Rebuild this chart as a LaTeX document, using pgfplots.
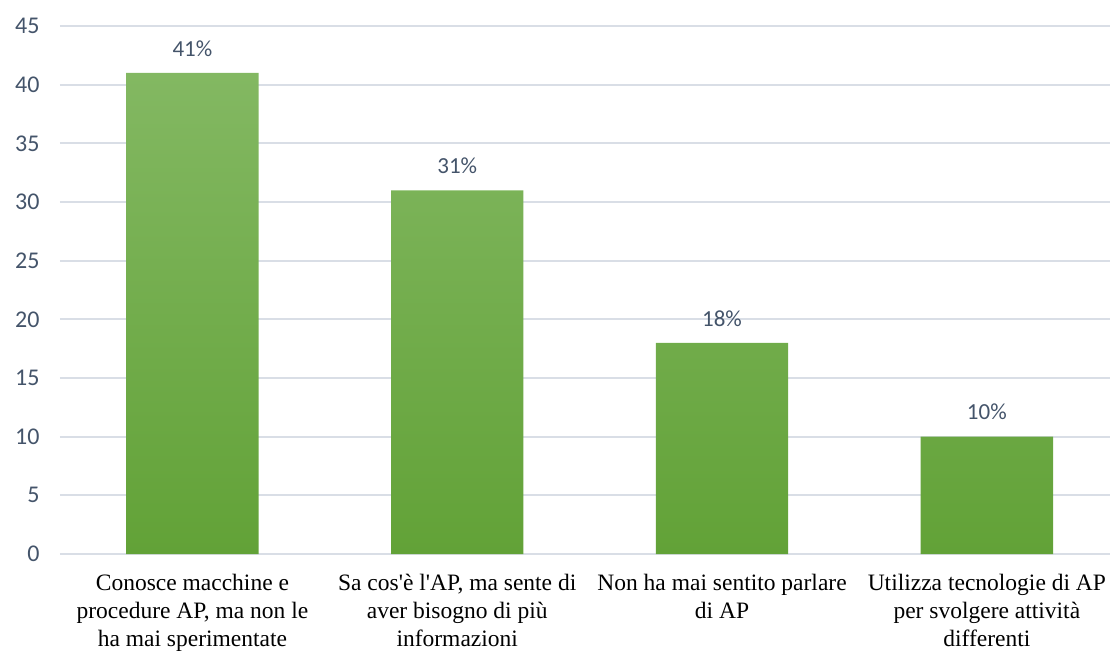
\documentclass[border=0pt]{standalone}
\usepackage{fontspec}
\setmainfont{Liberation Serif}
\newfontfamily\carlito{Carlito}
\usepackage{pgfplots}
\pgfplotsset{compat=1.18}
\definecolor{tickc}{RGB}{68,84,106}
\definecolor{gridc}{RGB}{217,222,230}
\definecolor{barTop}{RGB}{131,184,98}
\definecolor{barMid}{RGB}{112,173,71}
\definecolor{barBot}{RGB}{98,162,55}
\begin{document}
\begin{tikzpicture}
\begin{axis}[
  scale only axis,
  width=1050bp, height=528bp,
  xmin=-0.5, xmax=3.465,
  ymin=0, ymax=45,
  ytick={0,5,...,45},
  xtick={0,1,2,3},
  xticklabels={
    {Conosce macchine e\\procedure AP, ma non le\\ha mai sperimentate},
    {Sa cos\textquotesingle è l\textquotesingle AP, ma sente di\\aver bisogno di più\\informazioni},
    {Non ha mai sentito parlare\\di AP},
    {Utilizza tecnologie di AP\\per svolgere attività\\differenti}},
  axis line style={draw=none},
  major tick length=0pt,
  ymajorgrids,
  grid style={draw=gridc, line width=1.8bp},
  /pgf/number format/assume math mode=true,
  yticklabel style={font=\carlito\fontsize{24bp}{28bp}\selectfont, text=tickc, xshift=-17bp},
  xticklabel style={font=\fontsize{23.5bp}{28bp}\selectfont, align=center, text=black, yshift=-17bp},
  nodes near coords={\pgfmathprintnumber{\pgfplotspointmeta}\%},
  every node near coord/.append style={font=\carlito\fontsize{23bp}{27bp}\selectfont, text=tickc, yshift=13bp},
  clip=false,
]
\addplot[ybar, bar width=0.5, draw=none, top color=barTop, middle color=barMid, bottom color=barBot]
  coordinates {(0,41) (1,31) (2,18) (3,10)};
\coordinate (bl) at (rel axis cs:0,0);
\end{axis}
\pgfresetboundingbox
\path (bl) ++(-60bp,-99bp) rectangle ++(1110bp,653bp);
\end{tikzpicture}
\end{document}
